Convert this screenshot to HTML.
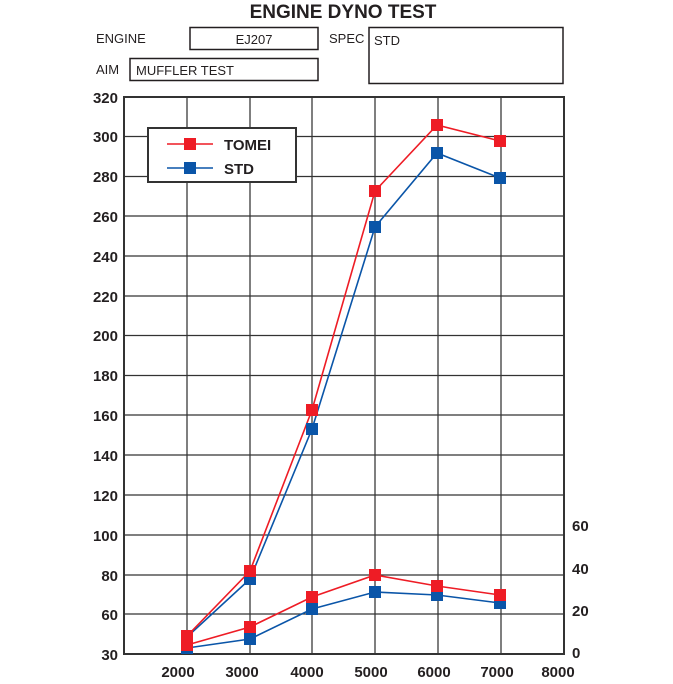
<!DOCTYPE html>
<html><head><meta charset="utf-8"><style>
html,body{margin:0;padding:0;background:#fff;}
svg{display:block;font-family:"Liberation Sans",Arial,sans-serif;}
</style></head><body>
<svg width="673" height="684" viewBox="0 0 673 684" xmlns="http://www.w3.org/2000/svg">
<text x="343" y="18" text-anchor="middle" font-size="19" font-weight="bold" fill="#231f20">ENGINE DYNO TEST</text>
<text x="96" y="43" font-size="13" fill="#231f20">ENGINE</text>
<rect x="190" y="27.5" width="128" height="22" fill="none" stroke="#231f20" stroke-width="1.5"/>
<text x="254" y="44" text-anchor="middle" font-size="13" fill="#231f20">EJ207</text>
<text x="329" y="43" font-size="13" fill="#231f20">SPEC</text>
<rect x="369" y="27.5" width="194" height="56" fill="none" stroke="#231f20" stroke-width="1.5"/>
<text x="374" y="45" font-size="13" fill="#231f20">STD</text>
<text x="96" y="74" font-size="13" fill="#231f20">AIM</text>
<rect x="130" y="58.5" width="188" height="22" fill="none" stroke="#231f20" stroke-width="1.5"/>
<text x="136" y="75" font-size="13" fill="#231f20">MUFFLER TEST</text>

<g stroke="#555" stroke-width="1.5">
<line x1="187" y1="97" x2="187" y2="654"/><line x1="250" y1="97" x2="250" y2="654"/>
<line x1="312" y1="97" x2="312" y2="654"/><line x1="375" y1="97" x2="375" y2="654"/>
<line x1="438" y1="97" x2="438" y2="654"/><line x1="501" y1="97" x2="501" y2="654"/>
</g>
<g stroke="#333" stroke-width="1.3">
<line x1="124" y1="136.5" x2="564" y2="136.5"/><line x1="124" y1="176.5" x2="564" y2="176.5"/>
<line x1="124" y1="216" x2="564" y2="216"/><line x1="124" y1="256" x2="564" y2="256"/>
<line x1="124" y1="296" x2="564" y2="296"/><line x1="124" y1="335.5" x2="564" y2="335.5"/>
<line x1="124" y1="375.5" x2="564" y2="375.5"/><line x1="124" y1="415" x2="564" y2="415"/>
<line x1="124" y1="455" x2="564" y2="455"/><line x1="124" y1="495" x2="564" y2="495"/>
<line x1="124" y1="535" x2="564" y2="535"/><line x1="124" y1="575" x2="564" y2="575"/>
<line x1="124" y1="614" x2="564" y2="614"/>
</g>
<rect x="124" y="97" width="440" height="557" fill="none" stroke="#333" stroke-width="2"/>

<g font-size="15" font-weight="bold" fill="#231f20" text-anchor="end">
<text x="118" y="103">320</text><text x="118" y="142">300</text><text x="118" y="182">280</text>
<text x="118" y="222">260</text><text x="118" y="262">240</text><text x="118" y="302">220</text>
<text x="118" y="341">200</text><text x="118" y="381">180</text><text x="118" y="421">160</text>
<text x="118" y="461">140</text><text x="118" y="501">120</text><text x="118" y="541">100</text>
<text x="118" y="581">80</text><text x="118" y="620">60</text><text x="118" y="660">30</text>
</g>
<g font-size="15" font-weight="bold" fill="#231f20" text-anchor="start">
<text x="572" y="531">60</text><text x="572" y="574">40</text><text x="572" y="616">20</text><text x="572" y="658">0</text>
</g>
<g font-size="15" font-weight="bold" fill="#231f20" text-anchor="middle">
<text x="178" y="677">2000</text><text x="242" y="677">3000</text><text x="307" y="677">4000</text>
<text x="371" y="677">5000</text><text x="434" y="677">6000</text><text x="497" y="677">7000</text>
<text x="558" y="677">8000</text>
</g>

<g fill="none" stroke-width="1.6">
<polyline stroke="#0a55a8" points="187,637 250,579 312,429 375,227 437,153 500,178"/>
<polyline stroke="#0a55a8" points="187,648 250,639 312,609 375,592 437,595 500,603"/>
<polyline stroke="#ee1c25" points="187,636 250,571 312,410 375,191 437,125 500,141"/>
<polyline stroke="#ee1c25" points="187,645 250,627 312,597 375,575 437,586 500,595"/>
</g>
<g fill="#0a55a8">
<rect x="181" y="631" width="12" height="12"/><rect x="244" y="573" width="12" height="12"/><rect x="306" y="423" width="12" height="12"/><rect x="369" y="221" width="12" height="12"/><rect x="431" y="147" width="12" height="12"/><rect x="494" y="172" width="12" height="12"/>
<rect x="181" y="642" width="12" height="12"/><rect x="244" y="633" width="12" height="12"/><rect x="306" y="603" width="12" height="12"/><rect x="369" y="586" width="12" height="12"/><rect x="431" y="589" width="12" height="12"/><rect x="494" y="597" width="12" height="12"/>
</g>
<g fill="#ee1c25">
<rect x="181" y="630" width="12" height="12"/><rect x="244" y="565" width="12" height="12"/><rect x="306" y="404" width="12" height="12"/><rect x="369" y="185" width="12" height="12"/><rect x="431" y="119" width="12" height="12"/><rect x="494" y="135" width="12" height="12"/>
<rect x="181" y="639" width="12" height="12"/><rect x="244" y="621" width="12" height="12"/><rect x="306" y="591" width="12" height="12"/><rect x="369" y="569" width="12" height="12"/><rect x="431" y="580" width="12" height="12"/><rect x="494" y="589" width="12" height="12"/>
</g>

<rect x="148" y="128" width="148" height="54" fill="#fff" stroke="#333" stroke-width="2"/>
<line x1="167" y1="144" x2="213" y2="144" stroke="#ee1c25" stroke-width="1.6"/>
<rect x="184" y="138" width="12" height="12" fill="#ee1c25"/>
<line x1="167" y1="168" x2="213" y2="168" stroke="#0a55a8" stroke-width="1.6"/>
<rect x="184" y="162" width="12" height="12" fill="#0a55a8"/>
<text x="224" y="150" font-size="15" font-weight="bold" fill="#231f20">TOMEI</text>
<text x="224" y="174" font-size="15" font-weight="bold" fill="#231f20">STD</text>
</svg>
</body></html>
